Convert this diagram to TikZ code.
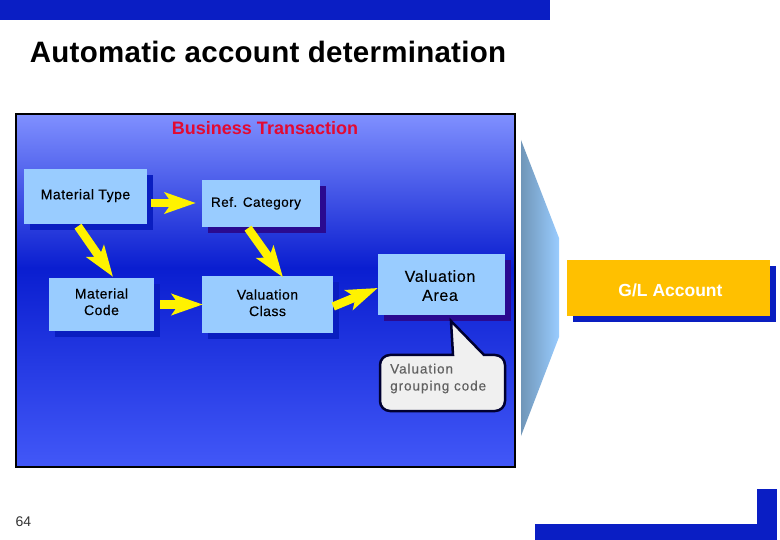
\documentclass[tikz,border=0pt]{standalone}
\usepackage{fontspec}
\setmainfont{Liberation Sans}
\newfontfamily\labfont[LetterSpace=3.5,FakeBold=0.35]{Liberation Sans}
\newfontfamily\vafont[LetterSpace=4,FakeBold=0.15]{Liberation Sans}
\newfontfamily\notefont[LetterSpace=7,FakeBold=0.4]{Liberation Sans}
\newfontfamily\titlefont[LetterSpace=0.9]{Liberation Sans}
\usetikzlibrary{arrows.meta,shadows,calc}
\definecolor{barblue}{HTML}{0A1EC4}
\definecolor{panelTop}{HTML}{8090FF}
\definecolor{panelMid}{HTML}{0A1ED0}
\definecolor{panelBot}{HTML}{4258F8}
\definecolor{boxblue}{HTML}{99CCFF}
\definecolor{shadeblue}{HTML}{0A1EC0}
\definecolor{shadepurple}{HTML}{2A0A90}
\definecolor{amber}{HTML}{FFC000}
\definecolor{titlered}{HTML}{E20A32}
\definecolor{funnelleft}{HTML}{7096B8}
\definecolor{notebg}{HTML}{F0F0F0}
\definecolor{noteline}{HTML}{000030}
\newcommand{\liftlines}[2]{\raisebox{#1}[\height][\depth]{\begin{tabular}{@{}c@{}}#2\end{tabular}}}
\tikzset{
  x=1pt,y=-1pt,
  boxnode/.style={fill=boxblue,inner sep=0pt,align=center,font=\labfont\fontsize{14}{16.5}\selectfont,text=black,
    general shadow={fill=shadeblue,shadow xshift=6pt,shadow yshift=-6pt}},
  purplebox/.style={fill=boxblue,inner sep=0pt,align=center,font=\labfont\fontsize{14}{16.5}\selectfont,text=black,
    general shadow={fill=shadepurple,shadow xshift=6pt,shadow yshift=-6pt}},
  flow/.style={draw=yellow,line width=8.5pt,-{Stealth[length=31pt,width=21pt,inset=7pt]}},
}
\begin{document}
\begin{tikzpicture}
\useasboundingbox (0,0) rectangle (780,540);
\fill[white] (0,0) rectangle (780,540);
% decorative bars
\fill[barblue] (0,0) rectangle (550,20);
\fill[barblue] (535,524) rectangle (777,540);
\fill[barblue] (757,489) rectangle (777,540);
% title
\node[font=\titlefont\fontsize{29.5}{33}\selectfont\bfseries,text=black,inner sep=0pt] (title) at (268,52) {Automatic account determination};
% panel
\shade[top color=panelTop,bottom color=panelMid] (16,114) rectangle (515,268);
\shade[top color=panelMid,bottom color=panelBot] (16,268) rectangle (515,467);
\draw[black,line width=2pt] (16,114) rectangle (515,467);
\node[font=\fontsize{18}{20}\selectfont\bfseries,text=titlered,inner sep=0pt] (bt) at (265,128) {Business Transaction};
% funnel
\shade[left color=funnelleft,right color=boxblue]
  (521,140) -- (559,238) -- (559,337) -- (521,436) -- cycle;
% boxes
\node[boxnode,minimum width=123pt,minimum height=55pt] (mt) at (85.5,196.5) {\liftlines{0.5pt}{Material Type}};
\node[purplebox,minimum width=118pt,minimum height=47pt,font=\labfont\fontsize{13.5}{16.5}\selectfont] (rc) at (261,203.5) {\hspace*{-10pt}\liftlines{0pt}{Ref. Category}};
\node[boxnode,minimum width=105pt,minimum height=53pt] (mc) at (101.5,304.5) {\liftlines{1pt}{Material\\Code}};
\node[boxnode,minimum width=131pt,minimum height=57pt] (vc) at (267.5,304.5) {\liftlines{0pt}{Valuation\\Class}};
\node[purplebox,minimum width=127pt,minimum height=61pt,font=\vafont\fontsize{16}{19}\selectfont] (va) at (441.5,284.5) {\hspace*{-3pt}\liftlines{-3pt}{Valuation\\Area}};
\node[boxnode,fill=amber,minimum width=203pt,minimum height=56pt,text=white,font=\fontsize{17.5}{19}\selectfont\bfseries] (gl) at (668.5,288) {\hspace*{4pt}\liftlines{-4.5pt}{G/L Account}};
% arrows
\draw[flow] ([shift={(4,6.5)}]mt.east) -- ([shift={(-6,-0.5)}]rc.west);
\draw[flow] ([shift={(-7.5,2)}]mt.south) -- ([shift={(11.5,-1)}]mc.north);
\draw[flow] ([shift={(6,0)}]mc.east) -- ([shift={(1,0)}]vc.west);
\draw[flow] ([shift={(-13,1)}]rc.south) -- ([shift={(15.5,1.5)}]vc.north);
\draw[flow] ([shift={(0,2)}]vc.east) -- ([shift={(0,3.5)}]va.west);
% callout
\draw[draw=noteline,line width=2.5pt,fill=notebg]
  (451,321) -- (484,355) [rounded corners=10pt] -- (505,355) -- (505,411) -- (380,411) -- (380,355) [sharp corners] -- (453,355) -- cycle;
\node[font=\notefont\fontsize{13.5}{17}\selectfont,text=black!62,align=left,anchor=west,inner sep=0pt] (vg) at (390,378.5) {Valuation\\grouping code};
% page number
\node[font=\fontsize{14}{15}\selectfont,text=black!80,inner sep=0pt] (pg) at (23.5,522) {64};
\end{tikzpicture}
\end{document}
